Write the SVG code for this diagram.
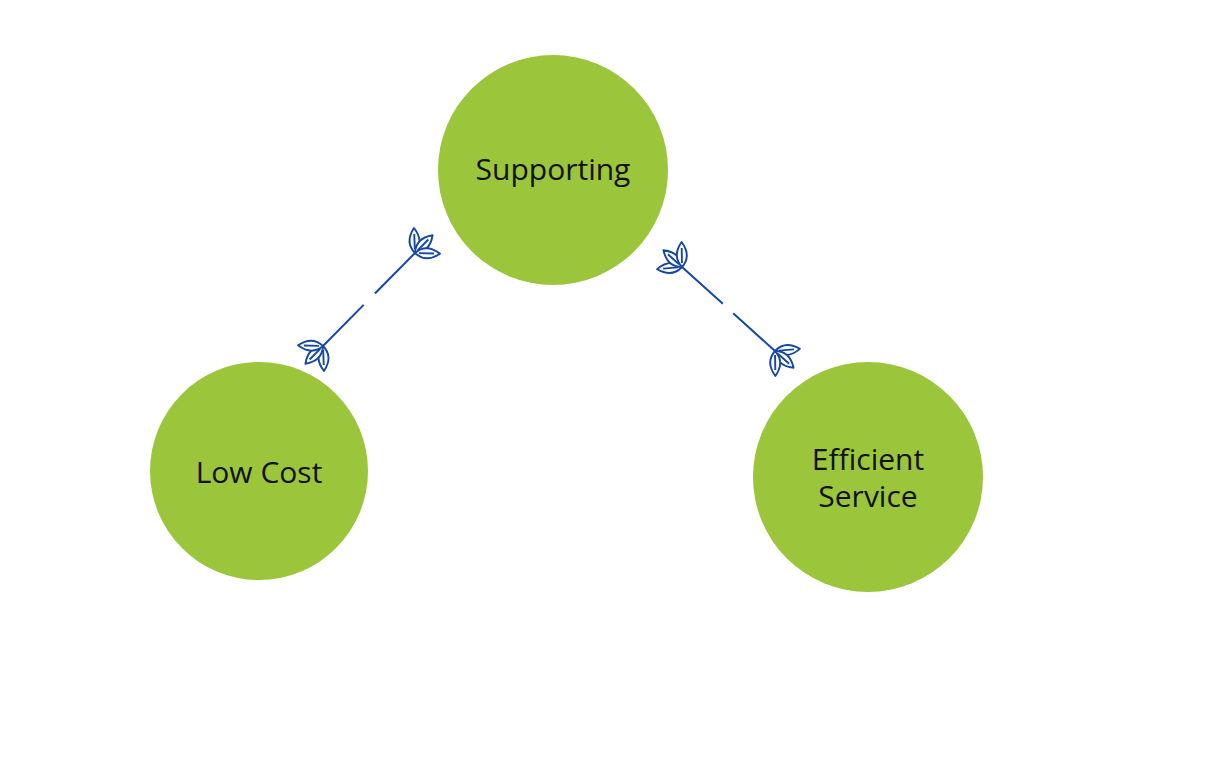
<svg xmlns="http://www.w3.org/2000/svg" width="1207" height="768" viewBox="0 0 1207 768">
<style>
.node{fill:#9bc53a}
.lbl{font-family:"Open Sans","Liberation Sans",sans-serif;font-size:30px;fill:#111;text-anchor:middle}
.conn{stroke:#1747a6;stroke-width:2;fill:none}
.leaf{stroke:#1747a6;stroke-width:1.9;fill:#fff;stroke-linejoin:round}
</style>
<defs>
<marker id="leaves" markerUnits="userSpaceOnUse" viewBox="-2 -20 32 40" refX="0" refY="0" markerWidth="32" markerHeight="40" orient="auto-start-reverse" overflow="visible">
<g class="leaf">
<path d="M0,0 Q11,-10 25,0 Q11,10 0,0 Z M4,0 L19,0" transform="rotate(-47)"/>
<path d="M0,0 Q11,-10 25,0 Q11,10 0,0 Z M4,0 L19,0"/>
<path d="M0,0 Q11,-10 25,0 Q11,10 0,0 Z M4,0 L19,0" transform="rotate(47)"/>
</g>
</marker>
</defs>
<rect width="1207" height="768" fill="#fff"/>
<g id="connectors">
<path class="conn" d="M415,253 L323,346" stroke-dasharray="57 16 300" marker-start="url(#leaves)" marker-end="url(#leaves)"/>
<path class="conn" d="M682,267 L775,351" stroke-dasharray="55 14 300" marker-start="url(#leaves)" marker-end="url(#leaves)"/>
</g>
<g id="supporting">
<circle class="node" cx="553" cy="170" r="115"/>
<text class="lbl" x="553" y="180">Supporting</text>
</g>
<g id="low-cost">
<circle class="node" cx="259" cy="471" r="109"/>
<text class="lbl" x="259" y="483">Low Cost</text>
</g>
<g id="efficient-service">
<circle class="node" cx="868" cy="477" r="115"/>
<text class="lbl" x="868" y="470">Efficient</text>
<text class="lbl" x="868" y="507">Service</text>
</g>
</svg>
